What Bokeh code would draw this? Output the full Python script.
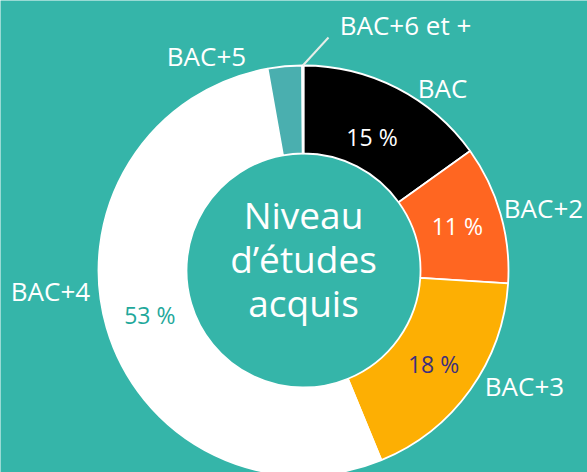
import numpy as np
from bokeh.plotting import figure
from bokeh.models import Range1d, ColumnDataSource
from bokeh.core.properties import value
from bokeh.embed import file_html
from bokeh.resources import INLINE

# ---- data ----
categories = ["BAC", "BAC+2", "BAC+3", "BAC+4", "BAC+5", "BAC+6 et +"]
shares = [15.1, 10.9, 17.8, 53.4, 2.7, 0.1]
colors = ["#000000", "#ff6621", "#fdaf03", "#ffffff", "#4aafaf", "#ffffff"]
pct_colors = ["#ffffff", "#ffffff", "#3d2f7c", "#1fa89b"]
center_lines = ["Niveau", "d\u2019études", "acquis"]

# ---- layout ----
W, H = 587, 472
BG = "#35b5a9"
CX, CY = 303, H - 270
R_IN, R_OUT = 117, 205
FONT = value("Open Sans")

p = figure(width=W, height=H, output_backend="svg", toolbar_location=None,
           x_range=Range1d(0, W), y_range=Range1d(0, H),
           x_axis_location=None, y_axis_location=None,
           min_border=0, background_fill_color=BG, border_fill_color=BG,
           outline_line_color=None)
p.grid.visible = False

vals = np.array(shares, dtype=float)
frac = vals / vals.sum()
cum_end = np.cumsum(frac)
cum_start = cum_end - frac
start_ang = np.pi / 2 - 2 * np.pi * cum_end
end_ang = np.pi / 2 - 2 * np.pi * cum_start
mid = (cum_start + cum_end) / 2 * 2 * np.pi  # clockwise from top

src = ColumnDataSource(dict(start=start_ang, end=end_ang, color=colors))
p.annular_wedge(x=CX, y=CY, inner_radius=R_IN, outer_radius=R_OUT,
                start_angle="start", end_angle="end", fill_color="color",
                line_color="white", line_width=1.8, source=src)

# percentage labels at mid-angle of the ring
pr = [150, 160, 160, 160]
n = len(pct_colors)
px = [CX + pr[i] * np.sin(mid[i]) for i in range(n)]
py = [CY + pr[i] * np.cos(mid[i]) for i in range(n)]
ptxt = [f"{round(frac[i] * 100)} %" for i in range(n)]
p.text(x=px, y=py, text=ptxt, text_color=pct_colors, text_font=FONT,
       text_font_size="23px", text_align="center", text_baseline="middle")

# outer category labels (pixel layout: x, centre y)
lab_pos = [(442, 87), (543, 207), (524, 385), (50, 290), (206, 55), (405, 24)]
p.text(x=[a for a, b in lab_pos], y=[H - b for a, b in lab_pos], text=categories,
       text_color="white", text_font=FONT, text_font_size="26px",
       text_align="center", text_baseline="middle")

# leader line for the smallest slice
lx0 = CX + R_OUT * np.sin(mid[5])
ly0 = CY + R_OUT * np.cos(mid[5])
p.segment(x0=[lx0], y0=[ly0], x1=[328], y1=[H - 37], line_color="#e8ede8", line_width=2)

# centre title
cl_mid = [214, 258, 302]
p.text(x=[CX] * 3, y=[H - b for b in cl_mid], text=center_lines, text_color="white",
       text_font=FONT, text_font_size="37px", text_align="center",
       text_baseline="middle")

open("out.html", "w").write(file_html(p, INLINE))
